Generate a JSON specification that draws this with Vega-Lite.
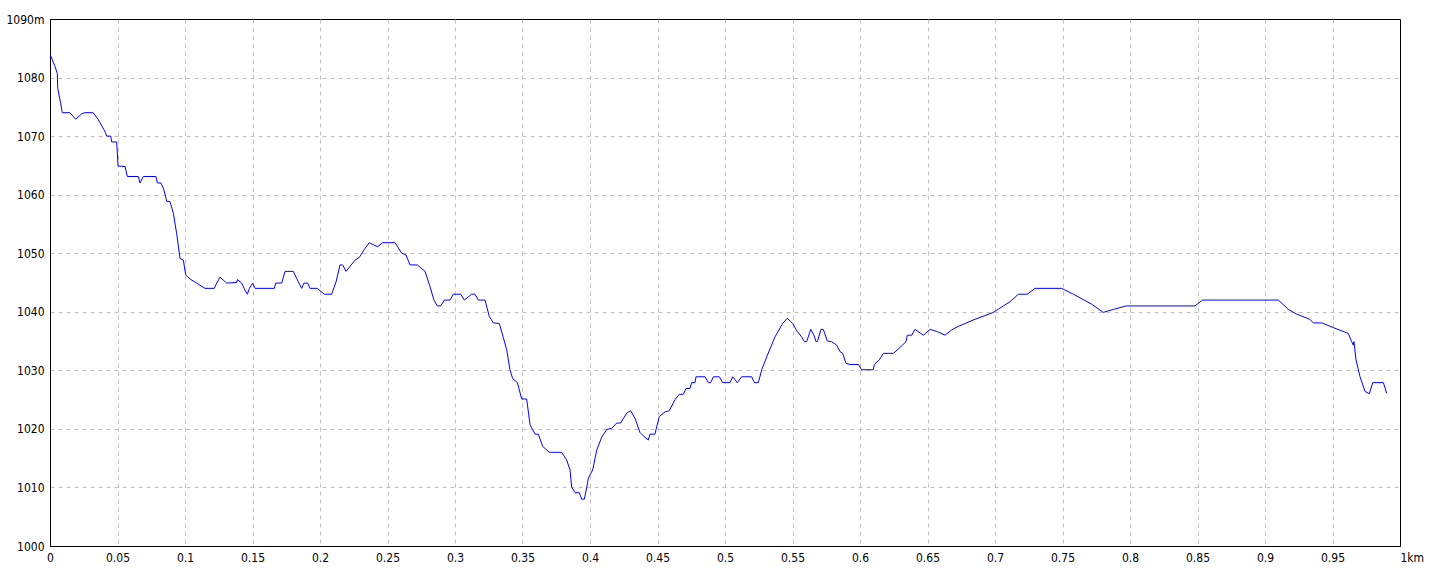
{
  "$schema": "https://vega.github.io/schema/vega-lite/v6.json",
  "width": 1350,
  "height": 527,
  "autosize": {"type": "none"},
  "padding": {"left": 50, "top": 19, "right": 40, "bottom": 30},
  "background": "white",
  "config": {
    "view": {"stroke": "black", "strokeWidth": 1},
    "axis": {
      "grid": true,
      "gridColor": "#c0c0c0",
      "gridDash": [4, 4],
      "gridWidth": 1,
      "domainColor": "black",
      "domainWidth": 1,
      "ticks": false,
      "tickSize": 0,
      "labelColor": "black",
      "labelFont": "Liberation Sans Narrow, DejaVu Sans Condensed, sans-serif",
      "labelFontSize": 12,
      "labelPadding": 6,
      "title": null
    }
  },
  "data": {
    "values": [
      {"d": 0, "e": 1084}, {"d": 0.0037, "e": 1081.9}, {"d": 0.0054, "e": 1080.7}, {"d": 0.0057, "e": 1078.2},
      {"d": 0.0079, "e": 1075.6}, {"d": 0.0091, "e": 1074}, {"d": 0.0148, "e": 1074}, {"d": 0.019, "e": 1072.9},
      {"d": 0.0235, "e": 1073.8}, {"d": 0.0259, "e": 1074}, {"d": 0.032, "e": 1074}, {"d": 0.0358, "e": 1072.8},
      {"d": 0.0407, "e": 1070.8}, {"d": 0.042, "e": 1070}, {"d": 0.045, "e": 1070}, {"d": 0.0457, "e": 1069},
      {"d": 0.0494, "e": 1069}, {"d": 0.0504, "e": 1064.9}, {"d": 0.0556, "e": 1064.8}, {"d": 0.0573, "e": 1063.1},
      {"d": 0.0654, "e": 1063.1}, {"d": 0.0667, "e": 1062}, {"d": 0.0691, "e": 1063.1}, {"d": 0.0785, "e": 1063.1},
      {"d": 0.0795, "e": 1062}, {"d": 0.0822, "e": 1062}, {"d": 0.0844, "e": 1060.8}, {"d": 0.0864, "e": 1058.9},
      {"d": 0.0889, "e": 1058.8}, {"d": 0.0914, "e": 1056.8}, {"d": 0.0938, "e": 1053.4}, {"d": 0.0958, "e": 1050},
      {"d": 0.0963, "e": 1049.1}, {"d": 0.0988, "e": 1048.8}, {"d": 0.1005, "e": 1046.3}, {"d": 0.1037, "e": 1045.6},
      {"d": 0.1086, "e": 1044.9}, {"d": 0.1148, "e": 1044}, {"d": 0.1217, "e": 1044}, {"d": 0.1235, "e": 1044.9},
      {"d": 0.1259, "e": 1045.9}, {"d": 0.1309, "e": 1044.9}, {"d": 0.1383, "e": 1045}, {"d": 0.1388, "e": 1045.5},
      {"d": 0.142, "e": 1044.9}, {"d": 0.1444, "e": 1043.7}, {"d": 0.1462, "e": 1043}, {"d": 0.1477, "e": 1044},
      {"d": 0.1501, "e": 1044.9}, {"d": 0.1519, "e": 1044}, {"d": 0.1662, "e": 1044}, {"d": 0.1672, "e": 1044.9},
      {"d": 0.1716, "e": 1044.9}, {"d": 0.1741, "e": 1046.9}, {"d": 0.1802, "e": 1046.9}, {"d": 0.1827, "e": 1045.7},
      {"d": 0.1864, "e": 1044}, {"d": 0.1881, "e": 1044.9}, {"d": 0.1909, "e": 1044.9}, {"d": 0.1926, "e": 1044},
      {"d": 0.198, "e": 1044}, {"d": 0.2, "e": 1043.6}, {"d": 0.2032, "e": 1043}, {"d": 0.2086, "e": 1043},
      {"d": 0.2119, "e": 1045.1}, {"d": 0.2148, "e": 1048}, {"d": 0.2168, "e": 1048}, {"d": 0.2193, "e": 1046.9},
      {"d": 0.2259, "e": 1048.8}, {"d": 0.2291, "e": 1049.3}, {"d": 0.2333, "e": 1050.8}, {"d": 0.2365, "e": 1051.8},
      {"d": 0.2427, "e": 1051.1}, {"d": 0.2464, "e": 1051.8}, {"d": 0.2556, "e": 1051.8}, {"d": 0.2575, "e": 1051.1},
      {"d": 0.2605, "e": 1050}, {"d": 0.2637, "e": 1049.7}, {"d": 0.2667, "e": 1048}, {"d": 0.2721, "e": 1048},
      {"d": 0.2778, "e": 1046.9}, {"d": 0.2815, "e": 1044.3}, {"d": 0.2844, "e": 1042}, {"d": 0.2869, "e": 1041},
      {"d": 0.2894, "e": 1041}, {"d": 0.2921, "e": 1042}, {"d": 0.2963, "e": 1042}, {"d": 0.2988, "e": 1043},
      {"d": 0.3042, "e": 1043}, {"d": 0.3069, "e": 1042}, {"d": 0.3123, "e": 1043}, {"d": 0.3148, "e": 1043},
      {"d": 0.3173, "e": 1042}, {"d": 0.3222, "e": 1042}, {"d": 0.3254, "e": 1039.2}, {"d": 0.3284, "e": 1038.1},
      {"d": 0.3328, "e": 1038}, {"d": 0.3358, "e": 1035.6}, {"d": 0.3383, "e": 1033.5}, {"d": 0.3407, "e": 1030.1},
      {"d": 0.3427, "e": 1028.6}, {"d": 0.3462, "e": 1027.9}, {"d": 0.3494, "e": 1025.1}, {"d": 0.3531, "e": 1025.1},
      {"d": 0.3556, "e": 1020.7}, {"d": 0.3593, "e": 1019.1}, {"d": 0.3617, "e": 1019.1}, {"d": 0.365, "e": 1017},
      {"d": 0.3699, "e": 1016}, {"d": 0.379, "e": 1016}, {"d": 0.3827, "e": 1014.7}, {"d": 0.3852, "e": 1013},
      {"d": 0.3864, "e": 1010.1}, {"d": 0.3889, "e": 1009.1}, {"d": 0.3921, "e": 1009.1}, {"d": 0.3938, "e": 1008},
      {"d": 0.3958, "e": 1008}, {"d": 0.3975, "e": 1009.9}, {"d": 0.3988, "e": 1011.6}, {"d": 0.402, "e": 1013},
      {"d": 0.405, "e": 1016.4}, {"d": 0.4087, "e": 1018.6}, {"d": 0.4124, "e": 1019.9}, {"d": 0.4161, "e": 1020.1},
      {"d": 0.4198, "e": 1021}, {"d": 0.4227, "e": 1021}, {"d": 0.4272, "e": 1022.7}, {"d": 0.4301, "e": 1023.1},
      {"d": 0.4333, "e": 1021.8}, {"d": 0.437, "e": 1019.4}, {"d": 0.44, "e": 1018.7}, {"d": 0.4432, "e": 1018.1},
      {"d": 0.4444, "e": 1019.1}, {"d": 0.4481, "e": 1019.1}, {"d": 0.4513, "e": 1022.1}, {"d": 0.4556, "e": 1022.9},
      {"d": 0.4587, "e": 1023.1}, {"d": 0.463, "e": 1025}, {"d": 0.4661, "e": 1025.9}, {"d": 0.4691, "e": 1025.9},
      {"d": 0.4711, "e": 1026.9}, {"d": 0.4741, "e": 1026.9}, {"d": 0.4753, "e": 1027.9}, {"d": 0.4778, "e": 1027.9},
      {"d": 0.4785, "e": 1028.9}, {"d": 0.4852, "e": 1028.9}, {"d": 0.4877, "e": 1027.9}, {"d": 0.4894, "e": 1027.9},
      {"d": 0.4914, "e": 1028.9}, {"d": 0.4958, "e": 1028.9}, {"d": 0.4983, "e": 1027.9}, {"d": 0.5037, "e": 1027.9},
      {"d": 0.5057, "e": 1028.9}, {"d": 0.5091, "e": 1027.9}, {"d": 0.5123, "e": 1028.9}, {"d": 0.5198, "e": 1028.9},
      {"d": 0.5217, "e": 1027.9}, {"d": 0.5247, "e": 1027.9}, {"d": 0.5272, "e": 1030.1}, {"d": 0.5309, "e": 1032.3},
      {"d": 0.537, "e": 1035.7}, {"d": 0.5427, "e": 1038}, {"d": 0.5462, "e": 1038.9}, {"d": 0.5501, "e": 1038},
      {"d": 0.5536, "e": 1036.6}, {"d": 0.5568, "e": 1035.7}, {"d": 0.5588, "e": 1034.9}, {"d": 0.5605, "e": 1034.9},
      {"d": 0.5635, "e": 1037}, {"d": 0.5659, "e": 1036}, {"d": 0.5674, "e": 1034.9}, {"d": 0.5684, "e": 1034.9},
      {"d": 0.5711, "e": 1037}, {"d": 0.5728, "e": 1037}, {"d": 0.5758, "e": 1035}, {"d": 0.579, "e": 1034.9},
      {"d": 0.5827, "e": 1034.3}, {"d": 0.5852, "e": 1033.2}, {"d": 0.5872, "e": 1032.9}, {"d": 0.5896, "e": 1031.2},
      {"d": 0.5926, "e": 1031}, {"d": 0.5988, "e": 1031}, {"d": 0.6012, "e": 1030.1}, {"d": 0.6099, "e": 1030.1},
      {"d": 0.6106, "e": 1031}, {"d": 0.6143, "e": 1031.8}, {"d": 0.6173, "e": 1032.9}, {"d": 0.6247, "e": 1032.9},
      {"d": 0.6296, "e": 1033.9}, {"d": 0.6341, "e": 1034.9}, {"d": 0.6351, "e": 1036}, {"d": 0.6383, "e": 1036},
      {"d": 0.6407, "e": 1037}, {"d": 0.6469, "e": 1036}, {"d": 0.6519, "e": 1037}, {"d": 0.6573, "e": 1036.6},
      {"d": 0.663, "e": 1036}, {"d": 0.6679, "e": 1036.9}, {"d": 0.6728, "e": 1037.5}, {"d": 0.6839, "e": 1038.6},
      {"d": 0.6988, "e": 1039.9}, {"d": 0.7062, "e": 1041}, {"d": 0.7111, "e": 1041.7}, {"d": 0.7173, "e": 1043},
      {"d": 0.7239, "e": 1043}, {"d": 0.7296, "e": 1044}, {"d": 0.7494, "e": 1044}, {"d": 0.758, "e": 1043},
      {"d": 0.7716, "e": 1041.3}, {"d": 0.7802, "e": 1039.9}, {"d": 0.7877, "e": 1040.4}, {"d": 0.7971, "e": 1041},
      {"d": 0.8481, "e": 1041}, {"d": 0.8538, "e": 1042}, {"d": 0.9099, "e": 1042}, {"d": 0.9173, "e": 1040.4},
      {"d": 0.9235, "e": 1039.6}, {"d": 0.9333, "e": 1038.7}, {"d": 0.9358, "e": 1038.1}, {"d": 0.942, "e": 1038.1},
      {"d": 0.9506, "e": 1037.3}, {"d": 0.9617, "e": 1036.3}, {"d": 0.9642, "e": 1034.9}, {"d": 0.9654, "e": 1034.3},
      {"d": 0.9659, "e": 1034.9}, {"d": 0.9674, "e": 1031.8}, {"d": 0.9704, "e": 1028.9}, {"d": 0.9741, "e": 1026.4},
      {"d": 0.9773, "e": 1026}, {"d": 0.9798, "e": 1027.9}, {"d": 0.9877, "e": 1027.9}, {"d": 0.9901, "e": 1026.1}
    ]
  },
  "mark": {"type": "line", "color": "#0000ff", "strokeWidth": 1, "clip": true},
  "encoding": {
    "x": {
      "field": "d",
      "type": "quantitative",
      "scale": {"domain": [0, 1], "nice": false, "zero": false},
      "axis": {
        "values": [0, 0.05, 0.1, 0.15, 0.2, 0.25, 0.3, 0.35, 0.4, 0.45, 0.5, 0.55, 0.6, 0.65, 0.7, 0.75, 0.8, 0.85, 0.9, 0.95, 1],
        "labelExpr": "datum.value >= 0.999 ? '1km' : format(datum.value, '.2~f')",
        "labelAlign": {"condition": {"test": "datum.value >= 0.999", "value": "left"}, "value": "center"},
        "gridOpacity": {"condition": {"test": "datum.value >= 0.999 || datum.value <= 0.001", "value": 0}, "value": 1},
        "labelBaseline": "top",
        "labelOverlap": false,
        "labelFlush": false
      }
    },
    "y": {
      "field": "e",
      "type": "quantitative",
      "scale": {"domain": [1000, 1090], "nice": false, "zero": false},
      "axis": {
        "values": [1000, 1010, 1020, 1030, 1040, 1050, 1060, 1070, 1080, 1090],
        "labelExpr": "datum.value >= 1090 ? '1090m' : format(datum.value, 'd')",
        "gridOpacity": {"condition": {"test": "datum.value >= 1090 || datum.value <= 1000", "value": 0}, "value": 1},
        "labelAlign": "right",
        "labelBaseline": "middle",
        "labelOverlap": false,
        "labelFlush": false
      }
    }
  }
}
